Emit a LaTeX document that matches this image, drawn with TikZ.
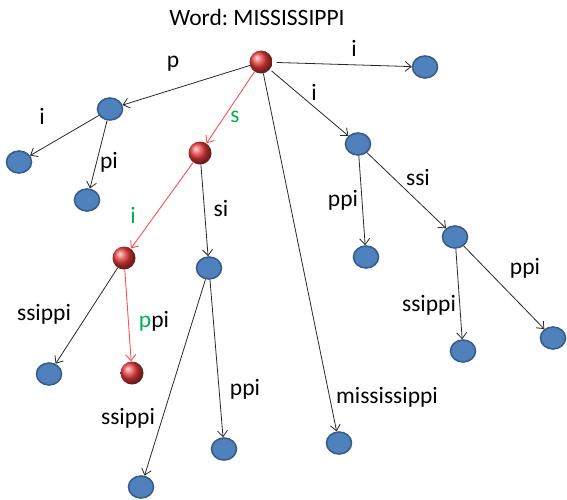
\documentclass[tikz,border=0pt]{standalone}
\usepackage{fontspec}
\setmainfont{Carlito}
\usetikzlibrary{arrows.meta,shapes.geometric}
\definecolor{bluefill}{RGB}{79,129,189}
\definecolor{blueline}{RGB}{56,93,138}
\definecolor{redball}{RGB}{235,60,60}
\definecolor{rededge}{RGB}{255,80,80}
\definecolor{greentxt}{RGB}{0,176,80}
\definecolor{edgegray}{RGB}{40,40,40}
\tikzset{
  bnode/.style={ellipse, draw=blueline, line width=1.6pt, fill=bluefill, minimum width=25pt, minimum height=22pt, inner sep=0pt},
  rnode/.style={circle, ball color=redball, minimum size=23pt, inner sep=0pt},
  edge/.style={draw=edgegray, line width=0.8pt, -{Straight Barb[length=6pt,width=10pt]}},
  redge/.style={draw=rededge, line width=0.9pt, -{Straight Barb[length=6pt,width=10pt]}},
  lbl/.style={font=\fontsize{23.5}{26}\selectfont, text=black, inner sep=0pt},
  glbl/.style={lbl, text=greentxt}
}
\begin{document}
\begin{tikzpicture}[x=1pt,y=-1pt]
\useasboundingbox (0,0) rectangle (567,499);
\node[lbl] (title) at (257,17) {Word:\ MISSISSIPPI};
% nodes
\node[rnode] (root) at (261,62) {};
\node[bnode] (r1) at (425,67) {};
\node[bnode] (p) at (110,109) {};
\node[bnode] (p1) at (19,162) {};
\node[bnode] (p2) at (87,200) {};
\node[rnode] (s) at (200,153) {};
\node[rnode] (si) at (124,258) {};
\node[bnode] (s2) at (209,268) {};
\node[bnode] (si1) at (49,374) {};
\node[rnode] (si2) at (132,373) {};
\node[bnode] (s21) at (141,487) {};
\node[bnode] (s22) at (224,449) {};
\node[bnode] (i) at (358,144) {};
\node[bnode] (i1) at (366,257) {};
\node[bnode] (i2) at (455,237) {};
\node[bnode] (i21) at (463,351) {};
\node[bnode] (i22) at (553,338) {};
\node[bnode] (m) at (339,443) {};
% edges
\draw[edge, shorten <=4pt] (root) -- (r1);
\draw[edge] (root) -- (p);
\draw[edge] (p) -- (p1);
\draw[edge] (p) -- (p2);
\draw[redge] (root) -- (s);
\draw[redge] (s) -- (si);
\draw[edge] (s) -- (s2);
\draw[edge] (si) -- (si1);
\draw[redge] (si) -- (si2);
\draw[edge] (s2) -- (s21);
\draw[edge] (s2) -- (s22);
\draw[edge, shorten <=2pt] (root) -- (i);
\draw[edge] (i) -- (i1);
\draw[edge] (i) -- (i2);
\draw[edge] (i2) -- (i21);
\draw[edge] (i2) -- (i22);
\draw[edge] (root) -- (m);
% labels
\node[lbl] (lr1) at (354,48) {i};
\node[lbl] (lp) at (173,64) {p};
\node[lbl] (li) at (314,92) {i};
\node[glbl] (ls) at (235,117) {s};
\node[lbl] (lp1) at (42,116) {i};
\node[lbl] (lp2) at (109,162) {pi};
\node[glbl] (lsi) at (133,215) {i};
\node[lbl] (ls2) at (221,208) {si};
\node[lbl] (lsi1) at (44,314) {ssippi};
\node[lbl] (lsi2) at (154,321) {\textcolor{greentxt}{p}pi};
\node[lbl] (ls21) at (128,418) {ssippi};
\node[lbl] (ls22) at (245,389) {ppi};
\node[lbl] (li2) at (418,177) {ssi};
\node[lbl] (li1) at (343,200) {ppi};
\node[lbl] (li21) at (429,305) {ssippi};
\node[lbl] (li22) at (525,268) {ppi};
\node[lbl] (lm) at (387,397) {mississippi};
\end{tikzpicture}
\end{document}
